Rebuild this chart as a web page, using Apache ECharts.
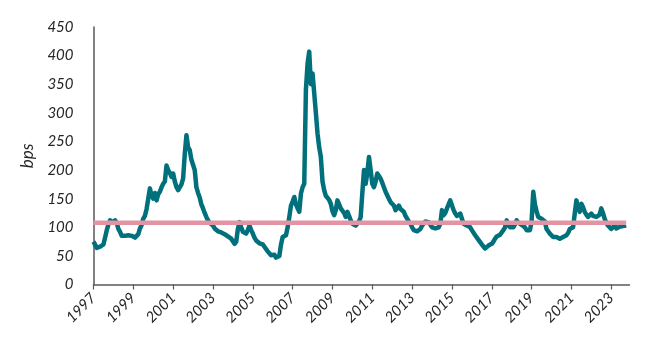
<!DOCTYPE html>
<html>
<head>
<meta charset="utf-8">
<script src="https://cdn.jsdelivr.net/npm/echarts@6/dist/echarts.min.js"></script>
<style>
html,body{margin:0;padding:0;background:#fff;}
#chart{width:655px;height:352px;}
</style>
</head>
<body>
<div id="chart"></div>
<script>
// Years covered by the x axis (monthly categories)
const years = [1997,1998,1999,2000,2001,2002,2003,2004,2005,2006,2007,2008,2009,2010,2011,2012,2013,2014,2015,2016,2017,2018,2019,2020,2021,2022,2023];
// Monthly spread values (bps), one row per year
const v1997 = [75,72,64,62,66,68,70,72,95,105,112,108];
const v1998 = [110,112,108,97,92,85,82,85,87,86,84,85];
const v1999 = [83,82,80,88,98,104,115,120,132,150,168,155];
const v2000 = [150,160,147,158,162,170,176,180,208,200,195,188];
const v2001 = [194,180,170,165,162,175,185,228,261,240,235,218];
const v2002 = [215,200,170,160,152,140,133,125,118,112,108,105];
const v2003 = [103,98,95,93,92,91,90,88,86,84,82,80];
const v2004 = [78,71,75,97,109,100,92,90,89,95,103,95];
const v2005 = [89,82,77,75,72,71,70,66,63,58,55,51];
const v2006 = [50,52,47,45,50,70,83,84,86,100,118,138];
const v2007 = [145,153,140,133,127,159,170,176,340,386,407,350];
const v2008 = [369,372,300,264,240,223,180,165,155,153,148,141];
const v2009 = [128,121,130,147,140,133,135,125,118,127,120,112];
const v2010 = [106,105,103,104,110,118,160,200,176,195,223,200];
const v2011 = [176,170,180,194,190,185,178,170,162,156,150,144];
const v2012 = [142,138,130,133,138,132,130,127,120,115,110,106];
const v2013 = [100,95,92,93,95,97,103,106,110,112,109,108];
const v2014 = [100,97,98,97,100,106,130,121,125,133,140,147];
const v2015 = [147,130,124,120,118,124,115,106,104,103,102,100];
const v2016 = [95,92,86,83,78,74,70,68,63,65,68,66];
const v2017 = [71,75,80,84,86,87,89,95,100,112,104,100];
const v2018 = [100,100,105,112,108,106,104,103,100,95,97,95];
const v2019 = [110,162,140,128,118,116,115,113,110,97,93,89];
const v2020 = [86,83,85,83,82,80,82,83,85,86,90,97];
const v2021 = [97,100,124,147,135,127,141,135,127,122,118,120];
const v2022 = [124,120,121,118,118,122,133,125,115,108,103,100];
const v2023 = [97,100,103,98,100,101,103,102,103,103,null,null];
// Long-run average (bps)
const average = 108;
// Y-axis ticks
const yMin = 0, yMax = 450, yStep = 50;

const yearRows = [v1997,v1998,v1999,v2000,v2001,v2002,v2003,v2004,v2005,v2006,v2007,v2008,v2009,v2010,v2011,v2012,v2013,v2014,v2015,v2016,v2017,v2018,v2019,v2020,v2021,v2022,v2023];
const categories = [];
const values = [];
years.forEach((y, i) => {
  yearRows[i].forEach((v, m) => {
    categories.push(y + '-' + String(m + 1).padStart(2, '0'));
    values.push(v);
  });
});
let lastIdx = 0;
values.forEach((v, i) => { if (v !== null) lastIdx = i; });
const avgData = [[categories[0], average], [categories[lastIdx], average]];

const font = 'Lato, "Open Sans", sans-serif';
const chart = echarts.init(document.getElementById('chart'), null, {renderer: 'canvas'});
chart.setOption({
  animation: false,
  backgroundColor: '#ffffff',
  grid: {left: 93.5, right: 25.5, top: 27, bottom: 67.5, containLabel: false},
  xAxis: {
    type: 'category',
    data: categories,
    boundaryGap: false,
    axisLine: {lineStyle: {color: '#595959', width: 1.5}},
    axisTick: {show: true, interval: 23, length: 5, lineStyle: {color: '#595959', width: 1.2}},
    axisLabel: {
      interval: 23, rotate: 45, margin: 11,
      color: '#262626', fontFamily: font, fontStyle: 'italic', fontSize: 15,
      formatter: v => v.slice(0, 4)
    },
    splitLine: {show: false}
  },
  yAxis: {
    type: 'value',
    min: yMin, max: yMax, interval: yStep,
    name: 'bps', nameLocation: 'middle', nameRotate: 90, nameGap: 52,
    nameTextStyle: {color: '#262626', fontFamily: font, fontStyle: 'italic', fontSize: 17},
    axisLine: {show: true, lineStyle: {color: '#595959', width: 1.5}},
    axisTick: {show: false},
    axisLabel: {color: '#262626', fontFamily: font, fontStyle: 'italic', fontSize: 15, margin: 20},
    splitLine: {show: false}
  },
  series: [
    {
      type: 'line', data: values, showSymbol: false, symbol: 'none',
      lineStyle: {color: '#00717C', width: 4.5, join: 'round'}, z: 2
    },
    {
      type: 'line', data: avgData, showSymbol: false, symbol: 'none',
      lineStyle: {color: '#E293A4', width: 4.5}, z: 3
    }
  ]
});
</script>
</body>
</html>
